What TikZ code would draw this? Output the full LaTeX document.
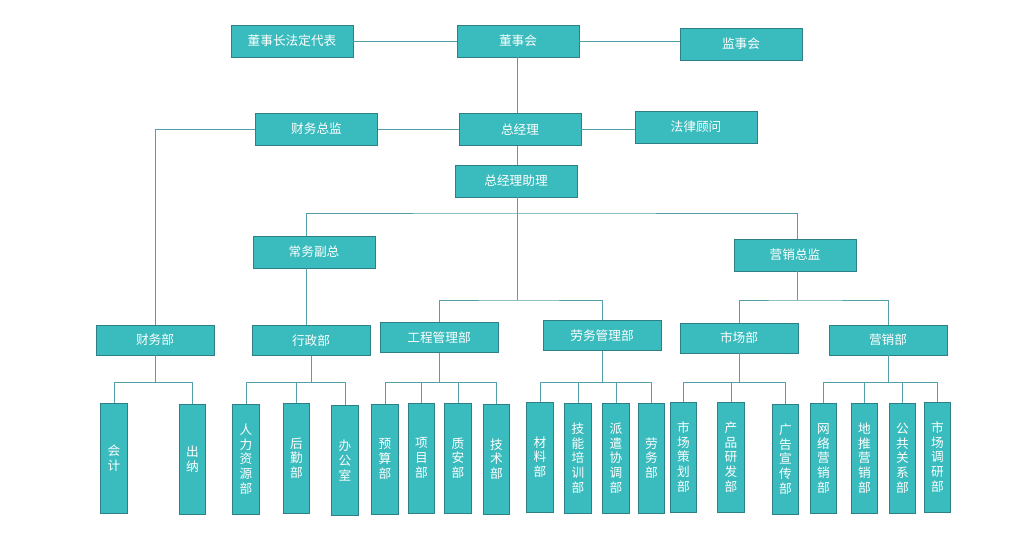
\documentclass[tikz,border=0pt]{standalone}
\usepackage{fontspec}
\newfontfamily\cjk{Noto Sans CJK SC}
\definecolor{boxfill}{RGB}{58,187,189}
\definecolor{boxedge}{RGB}{46,128,136}
\definecolor{linkline}{RGB}{84,160,170}
\tikzset{
  orgbox/.style={draw=boxedge, fill=boxfill, line width=0.6pt, text=white,
    inner sep=0pt, minimum width=91.5pt, minimum height=24pt,
    font=\cjk\fontsize{9.5}{11}\selectfont},
  deptbox/.style={orgbox, minimum width=88.5pt, minimum height=22.5pt},
  vbox/.style={orgbox, minimum width=20pt, minimum height=82.5pt, align=center},
  link/.style={draw=linkline, line width=0.6pt}
}
\begin{document}
\begin{tikzpicture}[x=0.75pt,y=-0.75pt]
  \fill[white] (0,0) rectangle (1013,543);
  \useasboundingbox (0,0) rectangle (1013,543);
  % Board level
  \node[orgbox] (frdb) at (292,41) {董事长法定代表};
  \node[orgbox] (dsh) at (518,41) {董事会};
  \node[orgbox] (jsh) at (741,44) {监事会};
  % Management level
  \node[orgbox] (cwzj) at (316.5,129) {财务总监};
  \node[orgbox] (zjl) at (520,129.5) {总经理};
  \node[orgbox] (flgw) at (696,127) {法律顾问};
  \node[orgbox] (zjlzl) at (516,181) {总经理助理};
  \node[orgbox] (cwfz) at (314,252) {常务副总};
  \node[orgbox] (yxzj) at (795,255) {营销总监};
  % Departments
  \node[deptbox] (cwb) at (155,340) {财务部};
  \node[deptbox] (xzb) at (311,340.5) {行政部};
  \node[deptbox] (gcb) at (439,337.5) {工程管理部};
  \node[deptbox] (lwb) at (602,335.5) {劳务管理部};
  \node[deptbox] (scb) at (739,338) {市场部};
  \node[deptbox] (yxb) at (888,340) {营销部};
  % Sections
  \node[vbox] (kj) at (114,458) {会\\计};
  \node[vbox] (cn) at (192.5,459) {出\\纳};
  \node[vbox] (rlzy) at (246,459) {人\\力\\资\\源\\部};
  \node[vbox] (hq) at (296.5,458) {后\\勤\\部};
  \node[vbox] (bgs) at (345,460.5) {办\\公\\室};
  \node[vbox] (ys) at (385,459) {预\\算\\部};
  \node[vbox] (xm) at (421.5,458) {项\\目\\部};
  \node[vbox] (za) at (458,458) {质\\安\\部};
  \node[vbox] (js) at (496.5,459) {技\\术\\部};
  \node[vbox] (cl) at (540,457) {材\\料\\部};
  \node[vbox] (jnpx) at (578,458) {技\\能\\培\\训\\部};
  \node[vbox] (pqxt) at (616,458) {派\\遣\\协\\调\\部};
  \node[vbox] (lw) at (651.5,458) {劳\\务\\部};
  \node[vbox] (scch) at (683.5,457) {市\\场\\策\\划\\部};
  \node[vbox] (cpyf) at (731,457) {产\\品\\研\\发\\部};
  \node[vbox] (ggxc) at (785.5,459) {广\\告\\宣\\传\\部};
  \node[vbox] (wlyx) at (823.5,458.5) {网\\络\\营\\销\\部};
  \node[vbox] (dtyx) at (864.5,458) {地\\推\\营\\销\\部};
  \node[vbox] (ggsx) at (902.5,458) {公\\共\\关\\系\\部};
  \node[vbox] (scdy) at (937.5,457) {市\\场\\调\\研\\部};
  % Spine and buses
  \coordinate (zlbus) at (517,213);
  \coordinate (gcbus) at (517,300);
  \coordinate (yxbus) at (797,300);
  % Top connectors
  \draw[link] (frdb.east) -- (dsh.west);
  \draw[link] (dsh.east) -- (dsh.east -| jsh.west);
  \draw[link] (dsh.south -| zlbus) -- (zjl.north -| zlbus);
  \draw[link] (cwzj.east) -- (cwzj.east -| zjl.west);
  \draw[link] (zjl.east) -- (zjl.east -| flgw.west);
  \draw[link] (cwzj.west) -| (cwb.north);
  \draw[link] (zjl.south -| zlbus) -- (zjlzl.north -| zlbus);
  \draw[link] (zjlzl.south -| zlbus) -- (gcbus);
  \draw[link] ([xshift=-6pt]cwfz.north) |- (zlbus) -| (yxzj.north -| yxbus);
  \draw[link] ([xshift=-6pt]cwfz.south) -- ([xshift=-6pt]cwfz.south |- xzb.north);
  \draw[link] (gcb.north) |- (gcbus) -| (lwb.north);
  \draw[link] (yxzj.south -| yxbus) -- (yxbus);
  \draw[link] (scb.north) |- (yxbus) -| (yxb.north);
  % Bottom connectors
  \foreach \p/\c in {cwb/kj, cwb/cn, xzb/rlzy, xzb/hq, xzb/bgs,
      gcb/ys, gcb/xm, gcb/za, gcb/js, lwb/cl, lwb/jnpx, lwb/pqxt, lwb/lw,
      scb/scch, scb/cpyf, scb/ggxc, yxb/wlyx, yxb/dtyx, yxb/ggsx, yxb/scdy}
    \draw[link] (\p.south) -- (\p.south |- 0,382) -| (\c.north);
\end{tikzpicture}
\end{document}
